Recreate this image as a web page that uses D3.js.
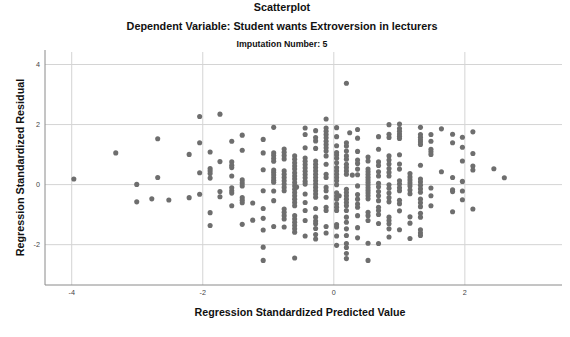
<!DOCTYPE html>
<html>
<head>
<meta charset="utf-8">
<script src="https://cdn.jsdelivr.net/npm/d3@7"></script>
<style>
  html, body { margin: 0; padding: 0; background: #fff; }
  svg { display: block; font-family: "Liberation Sans", Arial, sans-serif; }
</style>
</head>
<body>
<svg id="chart" width="570" height="337"></svg>
<script>
// Tick values for both axes
const xTicks = [-4, -2, 0, 2];
const yTicks = [-2, 0, 2, 4];

// Standardized predicted values (one per column of points)
const predicted = [
  -3.96, -3.32, -3.00, -2.77, -2.68, -2.51, -2.20, -2.04, -1.88, -1.73,
  -1.55, -1.39, -1.23, -1.07, -0.91, -0.75, -0.59, -0.56, -0.43, -0.27,
  -0.11, 0.05, 0.09, 0.20, 0.25, 0.29, 0.37, 0.53, 0.69, 0.85,
  1.01, 1.17, 1.33, 1.49, 1.65, 1.82, 1.97, 2.13, 2.45, 2.61
];

// Standardized residuals for each predicted value above
const residuals = [
  [0.17],
  [1.04],
  [-0.01, -0.59],
  [-0.49],
  [1.51, 0.22],
  [-0.53],
  [0.99, -0.45],
  [2.25, 1.38, 0.38, -0.34],
  [1.07, 0.52, 0.44, 0.35, 0.20, -0.95, -1.38],
  [2.33, 0.75, -0.25, -0.42],
  [1.43, 0.74, 0.63, 0.55, 0.27, -0.12, -0.22, -0.30, -0.72],
  [1.63, 1.13, 0.14, 0.04, -0.06, -0.45, -0.54, -0.62, -1.34],
  [-0.63, -1.20],
  [1.49, 1.04, 0.48, -0.22, -0.81, -1.14, -1.53, -2.10, -2.54],
  [1.89, 1.04, 0.95, 0.85, 0.76, 0.47, 0.39, 0.30, 0.21, 0.13, 0.06, -0.23, -0.55, -1.41],
  [1.17, 1.06, 0.95, 0.84, 0.44, 0.33, 0.22, 0.11, 0.00, -0.11, -0.22, -0.83, -0.94, -1.05, -1.16, -1.43],
  [0.94, 0.83, 0.71, 0.60, 0.50, 0.38, 0.27, 0.17, 0.05, -0.06, -0.17, -0.28, -0.39, -0.50, -0.61, -0.72, -1.05, -1.16, -1.27, -1.38, -1.49, -1.60, -2.46],
  [-0.10],
  [1.87, 1.65, 1.21, 0.87, 0.76, 0.65, 0.54, 0.43, 0.32, 0.21, 0.09, 0.00, -0.33, -0.61, -0.88, -1.21, -1.73],
  [1.78, 1.55, 1.44, 1.19, 0.77, 0.66, 0.55, 0.44, 0.33, 0.22, 0.11, 0.00, -0.11, -0.22, -0.33, -0.44, -0.81, -1.10, -1.23, -1.32, -1.48, -1.68, -1.83],
  [2.17, 1.87, 1.76, 1.65, 1.54, 1.43, 1.32, 1.21, 1.10, 0.94, 0.66, 0.33, 0.22, -0.11, -0.22, -0.44, -0.77, -0.88, -1.41, -1.63],
  [1.88, 1.58, 1.28, 1.05, 0.97, 0.86, 0.71, 0.55, 0.44, 0.33, 0.22, 0.11, -0.02, -0.29, -0.40, -0.50, -0.66, -0.77, -0.88, -1.35, -1.43, -1.73, -2.04],
  [-0.39],
  [3.36, 1.38, 1.27, 1.10, 0.94, 0.83, 0.66, 0.55, 0.44, 0.33, -0.17, -0.28, -0.39, -0.50, -0.61, -0.72, -0.88, -1.10, -1.27, -1.49, -1.71, -1.98, -2.11, -2.31, -2.48],
  [1.71],
  [0.30],
  [1.82, 1.53, 1.09, 0.80, 0.69, 0.50, 0.31, -0.06, -0.35, -0.50, -0.66, -0.77, -1.05, -1.45, -1.79],
  [0.90, 0.77, 0.50, 0.41, 0.32, 0.23, 0.14, 0.05, -0.03, -0.12, -0.21, -0.30, -0.39, -0.49, -0.94, -1.05, -1.21, -1.97, -2.54],
  [1.58, 1.16, 0.74, 0.62, 0.41, 0.27, 0.03, -0.09, -0.25, -0.39, -0.55, -0.77, -0.88, -1.01, -1.31, -1.98],
  [1.98, 1.66, 1.55, 0.94, 0.80, 0.67, 0.52, 0.39, 0.27, -0.02, -0.14, -0.30, -0.45, -0.59, -1.10, -1.21, -1.32, -1.49, -1.76],
  [2.00, 1.85, 1.76, 1.67, 1.59, 1.52, 0.98, 0.67, 0.50, 0.11, 0.00, -0.12, -0.22, -0.54, -0.65, -0.89, -1.52],
  [0.35, 0.24, 0.14, 0.04, -0.06, -0.20, -0.32, -1.09, -1.30, -1.81],
  [1.89, 1.65, 1.56, 1.48, 1.40, 1.32, 0.63, 0.17, 0.07, -0.04, -0.16, -0.27, -0.50, -0.62, -0.75, -0.97, -1.10, -1.52, -1.63, -1.71],
  [1.65, 1.43, 1.16, 1.08, 0.99, -0.13, -0.39, -0.72],
  [1.84, 0.41],
  [1.66, 1.38, 0.22, -0.19, -0.25, -0.92],
  [1.56, 1.23, 0.77, 0.09, -0.23, -0.52],
  [1.74, 1.02, 0.60, 0.47, -0.83],
  [0.51],
  [0.21]
];

const points = predicted.flatMap((p, i) => residuals[i].map(r => ({ p, r })));

const svg = d3.select("#chart");
const plotLeft = 45, plotRight = 562, plotTop = 52, plotBottom = 285;

const x = d3.scaleLinear().domain([-4.4, 3.49]).range([plotLeft, plotRight]);
const y = d3.scaleLinear().domain([-3.36, 4.40]).range([plotBottom, plotTop]);

// Titles
const titles = [
  { text: "Scatterplot", y: 11, size: 10.8 },
  { text: "Dependent Variable: Student wants Extroversion in lecturers", y: 30, size: 10.8 },
  { text: "Imputation Number: 5", y: 47, size: 8.8 }
];
svg.selectAll("text.title").data(titles).join("text")
  .attr("class", "title")
  .attr("x", 282).attr("y", d => d.y)
  .attr("text-anchor", "middle")
  .attr("font-weight", "bold")
  .attr("font-size", d => d.size)
  .attr("fill", "#111")
  .text(d => d.text);

// Grid lines
const gx = svg.append("g").attr("transform", `translate(0,${plotBottom})`)
  .call(d3.axisBottom(x).tickValues(xTicks).tickSize(-(plotBottom - plotTop)).tickFormat(""));
gx.select(".domain").remove();
gx.selectAll("line").attr("stroke", "#d4d4d4");

const gy = svg.append("g").attr("transform", `translate(${plotLeft},0)`)
  .call(d3.axisLeft(y).tickValues(yTicks).tickSize(-(plotRight - plotLeft)).tickFormat(""));
gy.select(".domain").remove();
gy.selectAll("line").attr("stroke", "#d4d4d4");

// Axis lines
svg.append("line").attr("x1", plotLeft).attr("x2", plotLeft).attr("y1", plotTop - 2).attr("y2", plotBottom)
  .attr("stroke", "#8a8a8a");
svg.append("line").attr("x1", plotLeft).attr("x2", plotRight).attr("y1", plotBottom).attr("y2", plotBottom)
  .attr("stroke", "#8a8a8a");

// Tick labels
const ax = svg.append("g").attr("transform", `translate(0,${plotBottom})`)
  .call(d3.axisBottom(x).tickValues(xTicks).tickSize(0).tickPadding(5).tickFormat(d => String(d)));
ax.select(".domain").remove();
ax.selectAll("text").attr("font-size", 7.2).attr("fill", "#444").attr("font-family", null);

const ay = svg.append("g").attr("transform", `translate(${plotLeft},0)`)
  .call(d3.axisLeft(y).tickValues(yTicks).tickSize(0).tickPadding(5).tickFormat(d => String(d)));
ay.select(".domain").remove();
ay.selectAll("text").attr("font-size", 7.2).attr("fill", "#444").attr("font-family", null);

// Axis titles
svg.append("text")
  .attr("x", 300).attr("y", 315.5)
  .attr("text-anchor", "middle")
  .attr("font-weight", "bold").attr("font-size", 10.7).attr("fill", "#111")
  .text("Regression Standardized Predicted Value");

svg.append("text")
  .attr("transform", "translate(23.5,167.5) rotate(-90)")
  .attr("text-anchor", "middle")
  .attr("font-weight", "bold").attr("font-size", 10.8).attr("fill", "#111")
  .text("Regression Standardized Residual");

// Points
svg.append("g").selectAll("circle").data(points).join("circle")
  .attr("cx", d => x(d.p))
  .attr("cy", d => y(d.r))
  .attr("r", 2.55)
  .attr("fill", "#6e6e6e");
</script>
</body>
</html>
